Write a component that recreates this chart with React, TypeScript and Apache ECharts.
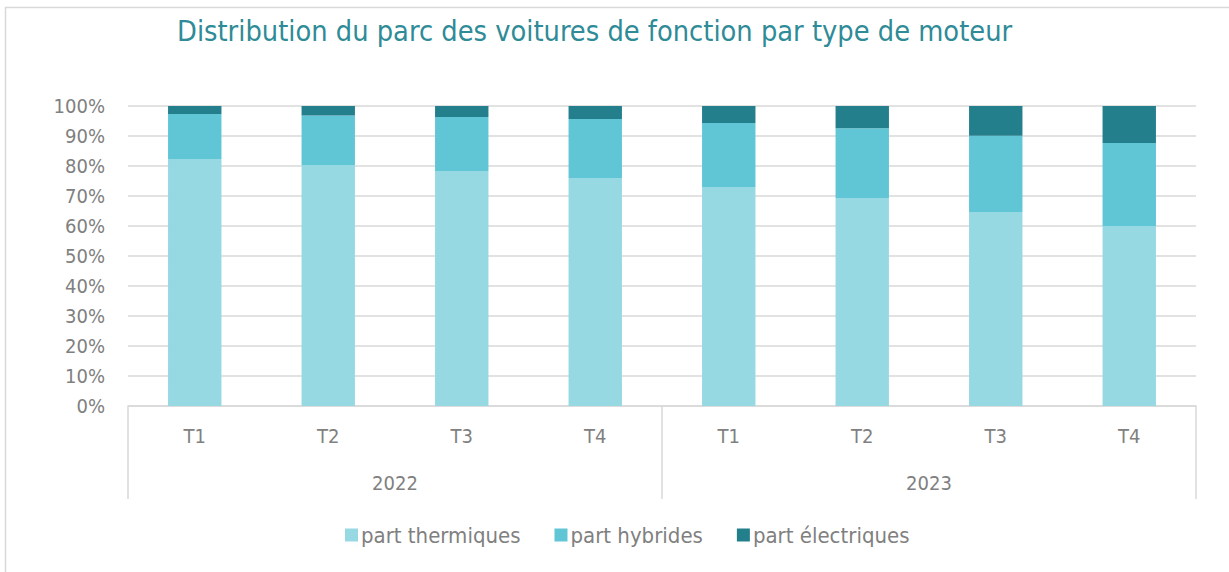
import React, { useEffect, useRef } from "react";
import * as echarts from "echarts";

const quarters = ["T1", "T2", "T3", "T4", "T1", "T2", "T3", "T4"];
const years = ["2022", "2023"];
const thermiques = [82.3, 80.3, 78.3, 76.0, 73.0, 69.3, 64.7, 60.0];
const hybrides = [15.0, 16.5, 18.0, 19.7, 21.3, 23.3, 25.4, 27.7];
const electriques = [2.7, 3.2, 3.7, 4.3, 5.7, 7.4, 9.9, 12.3];
const yTicks = [0, 10, 20, 30, 40, 50, 60, 70, 80, 90, 100];

const FONT = "'Liberation Sans Narrow', 'DejaVu Sans Condensed', Roboto, sans-serif";
const GREY = "#808080";

export default function App() {
  const ref = useRef<HTMLDivElement>(null);
  useEffect(() => {
    if (!ref.current) return;
    const chart = echarts.init(ref.current, null, { renderer: "svg" });
    chart.setOption({
      animation: false,
      backgroundColor: "#ffffff",
      textStyle: { fontFamily: FONT },
      title: {
        text: "Distribution du parc des voitures de fonction par type de moteur",
        left: 172,
        top: 11,
        textStyle: { fontFamily: FONT, fontSize: 28.7, fontWeight: "normal", color: "#2e8b97" },
      },
      graphic: [
        {
          type: "rect",
          shape: { x: 5.5, y: 7.5, width: 1260, height: 600 },
          style: { fill: "none", stroke: "#d9d9d9", lineWidth: 1.5 },
          silent: true,
        },
      ],
      legend: {
        bottom: 21,
        left: 340,
        itemWidth: 13,
        itemHeight: 13,
        itemGap: 34,
        icon: "rect",
        textStyle: { fontFamily: FONT, fontSize: 22, color: GREY, padding: [0, 0, 0, -2] },
        data: ["part thermiques", "part hybrides", "part électriques"],
      },
      grid: { left: 128, right: 33, top: 106, bottom: 166, containLabel: false },
      xAxis: [
        {
          type: "category",
          data: quarters,
          position: "bottom",
          axisLine: { show: true, lineStyle: { color: "#d9d9d9", width: 1.5 } },
          axisTick: { show: false },
          axisLabel: { color: GREY, fontSize: 20, margin: 20, fontFamily: FONT },
        },
        {
          type: "category",
          data: years,
          position: "bottom",
          axisLine: { show: false },
          axisTick: { show: true, length: 93, lineStyle: { color: "#d9d9d9", width: 1.5 } },
          axisLabel: { color: GREY, fontSize: 20, margin: 67, fontFamily: FONT },
        },
      ],
      yAxis: {
        type: "value",
        min: 0,
        max: 100,
        interval: 10,
        axisLine: { show: false },
        axisTick: { show: false },
        splitLine: { lineStyle: { color: "#d9d9d9", width: 1.5 } },
        axisLabel: {
          color: GREY,
          fontSize: 20,
          margin: 23,
          fontFamily: FONT,
          formatter: (v: number) => (yTicks.includes(v) ? v + "%" : ""),
        },
      },
      series: [
        { name: "part thermiques", type: "bar", stack: "t", barWidth: "40%", data: thermiques, itemStyle: { color: "#97d9e3" } },
        { name: "part hybrides", type: "bar", stack: "t", barWidth: "40%", data: hybrides, itemStyle: { color: "#60c6d6" } },
        { name: "part électriques", type: "bar", stack: "t", barWidth: "40%", data: electriques, itemStyle: { color: "#247f8c" } },
      ],
    });
    return () => chart.dispose();
  }, []);
  return (
    <div
      ref={ref}
      style={{ position: "absolute", left: 0, top: 0, width: 1229, height: 572 }}
    />
  );
}
